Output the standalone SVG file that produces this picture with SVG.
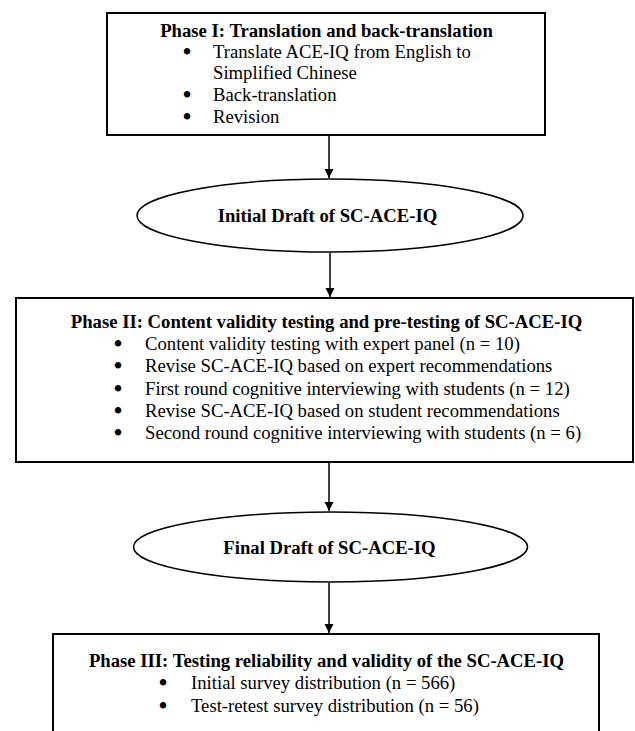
<svg xmlns="http://www.w3.org/2000/svg" width="635" height="731" viewBox="0 0 635 731">
<defs>
<marker id="ah" viewBox="0 0 10 10" refX="10" refY="5" markerWidth="9" markerHeight="11" markerUnits="userSpaceOnUse" orient="auto">
<path d="M0,0 L10,5 L0,10 z" fill="#000"/>
</marker>
<style>
.box{fill:#fff;stroke:#000;stroke-width:2}
.ell{fill:#fff;stroke:#000;stroke-width:1.5}
.t{font-family:"Liberation Serif","Times New Roman",serif;font-size:18.7px;fill:#000}
.b{font-weight:bold}
.c{text-anchor:middle}
.bu{font-family:"Liberation Serif","Times New Roman",serif;font-size:18.7px;fill:#000;stroke:#000;stroke-width:2;stroke-linejoin:round}
.con{stroke:#000;stroke-width:1.5;fill:none;marker-end:url(#ah)}
</style>
</defs>
<rect width="635" height="731" fill="#fff"/>
<g id="connectors">
<line class="con" x1="329" y1="136" x2="329" y2="178"/>
<line class="con" x1="330" y1="253" x2="330" y2="297"/>
<line class="con" x1="329" y1="463" x2="329" y2="511"/>
<line class="con" x1="329" y1="583" x2="329" y2="633"/>
</g>
<g id="phase1">
<rect class="box" x="107" y="13" width="438" height="122"/>
<text class="t b c" x="326.5" y="37">Phase I: Translation and back-translation</text>
<text class="bu" x="183.7" y="58">•</text>
<text class="t" x="213" y="58">Translate ACE-IQ from English to</text>
<text class="t" x="213" y="79">Simplified Chinese</text>
<text class="bu" x="183.7" y="101">•</text>
<text class="t" x="213" y="101">Back-translation</text>
<text class="bu" x="183.7" y="123">•</text>
<text class="t" x="213" y="123">Revision</text>
</g>
<g id="initial-draft">
<ellipse class="ell" cx="330" cy="215.5" rx="193" ry="36.5"/>
<text class="t b c" x="327.5" y="222">Initial Draft of SC-ACE-IQ</text>
</g>
<g id="phase2">
<rect class="box" x="16" y="298" width="617" height="164"/>
<text class="t b c" x="326.5" y="328">Phase II: Content validity testing and pre-testing of SC-ACE-IQ</text>
<text class="bu" x="114.7" y="350">•</text>
<text class="t" x="145" y="350">Content validity testing with expert panel (n = 10)</text>
<text class="bu" x="114.7" y="372">•</text>
<text class="t" x="145" y="372">Revise SC-ACE-IQ based on expert recommendations</text>
<text class="bu" x="114.7" y="395">•</text>
<text class="t" x="145" y="395">First round cognitive interviewing with students (n = 12)</text>
<text class="bu" x="114.7" y="417">•</text>
<text class="t" x="145" y="417">Revise SC-ACE-IQ based on student recommendations</text>
<text class="bu" x="114.7" y="439">•</text>
<text class="t" x="145" y="439">Second round cognitive interviewing with students (n = 6)</text>
</g>
<g id="final-draft">
<ellipse class="ell" cx="330.5" cy="547" rx="197" ry="35"/>
<text class="t b c" x="329.5" y="553.5">Final Draft of SC-ACE-IQ</text>
</g>
<g id="phase3">
<rect class="box" x="53" y="634" width="546" height="120"/>
<text class="t b c" x="326.5" y="667">Phase III: Testing reliability and validity of the SC-ACE-IQ</text>
<text class="bu" x="159.7" y="689">•</text>
<text class="t" x="191" y="689">Initial survey distribution (n = 566)</text>
<text class="bu" x="159.7" y="712">•</text>
<text class="t" x="191" y="712">Test-retest survey distribution (n = 56)</text>
</g>
</svg>
